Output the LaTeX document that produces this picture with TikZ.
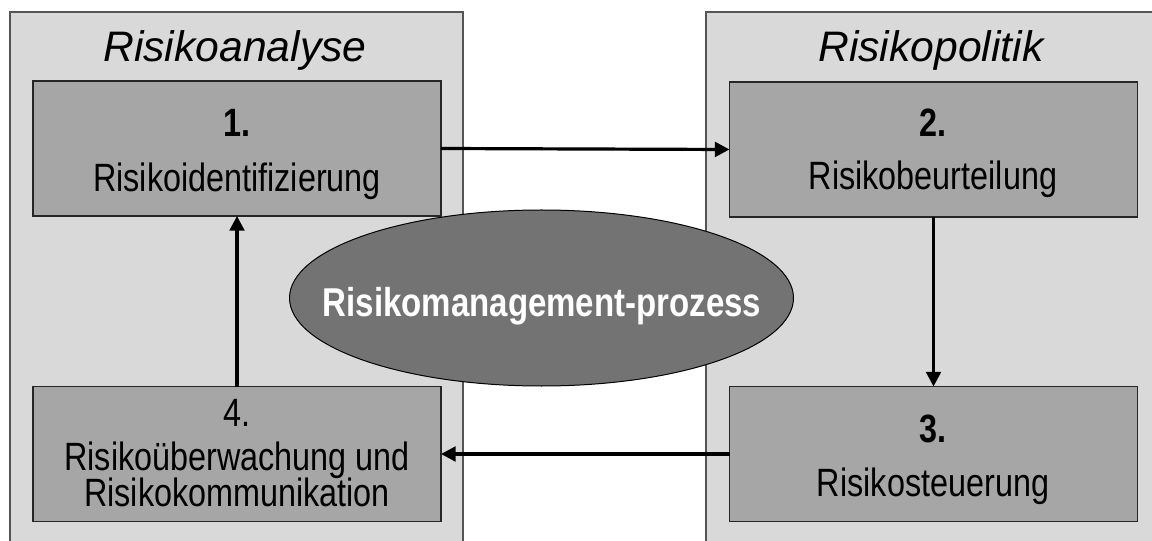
\documentclass[tikz,border=0pt]{standalone}
\usepackage{fontspec}
\setmainfont{Liberation Sans}
\newfontfamily\narrowfont[FakeStretch=0.82]{Liberation Sans}
\usetikzlibrary{shapes.geometric,arrows.meta}
\definecolor{panelgray}{HTML}{D9D9D9}
\definecolor{boxgray}{HTML}{A6A6A6}
\definecolor{ellgray}{HTML}{737373}
\definecolor{panelline}{HTML}{555555}
\definecolor{boxline}{HTML}{262626}
\tikzset{
  panel/.style={draw=panelline, fill=panelgray, line width=0.9pt},
  stepbox/.style={draw=boxline, fill=boxgray, line width=0.9pt, rectangle,
    minimum width=306pt, minimum height=101.25pt, inner sep=0pt, outer sep=0pt},
  ttl/.style={anchor=base, inner sep=0pt, font=\fontsize{32}{38}\selectfont\itshape},
  num/.style={anchor=base, inner sep=0pt, font=\narrowfont\fontsize{29.6}{34}\selectfont\bfseries},
  numreg/.style={anchor=base, inner sep=0pt, font=\narrowfont\fontsize{29.6}{34}\selectfont},
  lbl/.style={anchor=base, inner sep=0pt, font=\narrowfont\fontsize{29.6}{34}\selectfont},
  arr/.style={line width=2.4pt, -{Triangle[length=11pt,width=11pt]}},
}
\begin{document}
\begin{tikzpicture}[x=0.75pt,y=-0.75pt]
\useasboundingbox (0,0) rectangle (1152,541);
\clip (0,0) rectangle (1152,541);
\fill[white] (0,0) rectangle (1152,541);
% panels
\draw[panel] (10,12) rectangle (463,600);
\draw[panel] (706,12) rectangle (1200,600);
\node[ttl] (ta) at (235,62) {Risikoanalyse};
\node[ttl] (tp) at (931,62) {Risikopolitik};
% ellipse
\node[ellipse, draw=black, line width=0.75pt, fill=ellgray, minimum width=378pt, minimum height=132pt, inner sep=0pt] (ell) at (541.5,298) {};
\node[anchor=base, inner sep=0pt, text=white, font=\narrowfont\fontsize{30.2}{36}\selectfont\bfseries] (et) at (542,317) {Risikomanagement-prozess};
% boxes
\node[stepbox] (b1) at (237,148.5) {};
\node[stepbox] (b2) at (933.5,149.5) {};
\node[stepbox] (b3) at (933.5,454) {};
\node[stepbox] (b4) at (237,454) {};
% texts
\node[num] (n1) at (237,137) {1.};
\node[lbl] (l1) at (237,192) {Risikoidentifizierung};
\node[num] (n2) at (933,137) {2.};
\node[lbl] (l2) at (933,190) {Risikobeurteilung};
\node[num] (n3) at (933,442) {3.};
\node[lbl] (l3) at (933,496) {Risikosteuerung};
\node[numreg] (n4) at (237,426) {4.};
\node[lbl] (l4a) at (237,470) {Risikoüberwachung und};
\node[lbl] (l4b) at (237,506) {Risikokommunikation};
% arrows
\draw[arr] (b1.east) -- (b2.west);
\draw[arr] (b2.south) -- (b3.north);
\draw[arr] (b3.west) -- (b4.east);
\draw[arr] (b4.north) -- (b1.south);
\end{tikzpicture}
\end{document}
